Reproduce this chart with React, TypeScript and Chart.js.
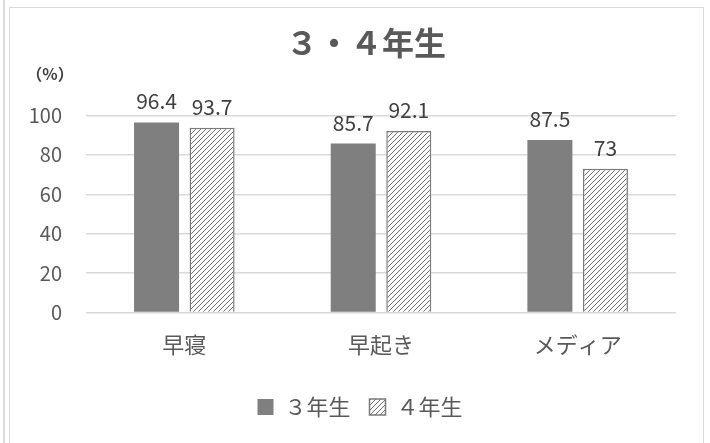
import React, { useEffect, useRef } from "react";
import { Chart, registerables } from "chart.js";

Chart.register(...registerables);

const categories = ["早寝", "早起き", "メディア"];
const seriesNames = ["３年生", "４年生"];
const grade3 = [96.4, 85.7, 87.5];
const grade4 = [93.7, 92.1, 73];
const valueLabels3 = ["96.4", "85.7", "87.5"];
const valueLabels4 = ["93.7", "92.1", "73"];
const titleText = "３・４年生";
const unitText = "（%）";

const FONT = "'Noto Sans CJK JP', 'Noto Sans', sans-serif";

function makeHatch(): CanvasPattern | string {
  const c = document.createElement("canvas");
  const s = 5;
  c.width = s;
  c.height = s;
  const g = c.getContext("2d");
  if (!g) return "#ffffff";
  g.fillStyle = "#ffffff";
  g.fillRect(0, 0, s, s);
  g.strokeStyle = "#6e6e6e";
  g.lineWidth = 1;
  g.beginPath();
  g.moveTo(0, s);
  g.lineTo(s, 0);
  g.moveTo(-1, 1);
  g.lineTo(1, -1);
  g.moveTo(s - 1, s + 1);
  g.lineTo(s + 1, s - 1);
  g.stroke();
  const p = g.createPattern(c, "repeat");
  return p || "#ffffff";
}

export default function App() {
  const ref = useRef<HTMLCanvasElement | null>(null);

  useEffect(() => {
    if (!ref.current) return;
    const hatch = makeHatch();
    const labelSets = [valueLabels3, valueLabels4];

    const valuePlugin = {
      id: "valueLabels",
      afterDatasetsDraw(chart: any) {
        const ctx = chart.ctx;
        ctx.save();
        ctx.font = `21px ${FONT}`;
        ctx.fillStyle = "#404040";
        ctx.textAlign = "center";
        ctx.textBaseline = "middle";
        chart.data.datasets.forEach((_: any, di: number) => {
          const meta = chart.getDatasetMeta(di);
          meta.data.forEach((el: any, i: number) => {
            ctx.fillText(labelSets[di][i], el.x, el.y - 21);
          });
        });
        ctx.restore();
      },
    };

    const unitPlugin = {
      id: "unitLabel",
      afterDraw(chart: any) {
        const ctx = chart.ctx;
        ctx.save();
        ctx.font = `bold 16px ${FONT}`;
        ctx.fillStyle = "#404040";
        ctx.textAlign = "center";
        ctx.textBaseline = "middle";
        ctx.fillText(unitText, 50, 74);
        ctx.restore();
      },
    };

    // shift the title and legend boxes so they centre like the reference
    const centrePlugin = {
      id: "centreBoxes",
      afterLayout(chart: any) {
        if (chart.titleBlock) {
          chart.titleBlock.left = 56;
          chart.titleBlock.width = chart.titleBlock.right - 56;
        }
        if (chart.legend) {
          chart.legend.left = 44;
          chart.legend.width = chart.legend.right - 44;
        }
      },
    };

    const chart = new Chart(ref.current, {
      type: "bar",
      data: {
        labels: categories,
        datasets: [
          {
            label: seriesNames[0],
            data: grade3,
            backgroundColor: "#7f7f7f",
            borderColor: "#7f7f7f",
            borderWidth: 0,
            categoryPercentage: 0.565,
            barPercentage: 0.81,
          },
          {
            label: seriesNames[1],
            data: grade4,
            backgroundColor: hatch as any,
            borderColor: "#7a7a7a",
            borderWidth: 1.5,
            categoryPercentage: 0.565,
            barPercentage: 0.81,
          },
        ],
      },
      options: {
        animation: false,
        responsive: false,
        maintainAspectRatio: false,
        devicePixelRatio: 1,
        layout: { padding: { top: 24, left: 0, right: 34, bottom: 15 } },
        plugins: {
          title: {
            display: true,
            text: titleText,
            color: "#595959",
            font: { family: FONT, size: 32, weight: "bold" },
            padding: { top: 0, bottom: 53 },
          },
          legend: {
            display: true,
            position: "bottom",
            labels: {
              color: "#595959",
              font: { family: FONT, size: 22 },
              boxWidth: 16,
              boxHeight: 16,
              padding: 19,
            },
          },
          tooltip: { enabled: false },
        },
        scales: {
          x: {
            grid: { display: false, drawTicks: false },
            border: { display: false },
            ticks: {
              color: "#595959",
              font: { family: FONT, size: 22 },
              padding: 19,
            },
          },
          y: {
            min: 0,
            max: 100,
            afterFit: (s: any) => {
              s.width = 86;
            },
            grid: { color: "#d9d9d9", lineWidth: 1.5, drawTicks: false },
            border: { display: false },
            ticks: {
              stepSize: 20,
              color: "#595959",
              font: { family: FONT, size: 20 },
              padding: 24,
            },
          },
        },
      },
      plugins: [valuePlugin, unitPlugin, centrePlugin],
    } as any);

    return () => chart.destroy();
  }, []);

  return (
    <div style={{ position: "absolute", left: 0, top: 0, width: 710, height: 443, overflow: "hidden", background: "#fff" }}>
      <canvas ref={ref} width={710} height={443} style={{ position: "absolute", left: 0, top: 0, width: 710, height: 443 }} />
      <div style={{ position: "absolute", left: 3, top: 0, width: 1.5, height: 443, background: "#dcdcdc" }} />
      <div
        style={{
          position: "absolute",
          left: 9,
          top: 7,
          width: 695,
          height: 460,
          border: "1.5px solid #d9d9d9",
          boxSizing: "border-box",
          pointerEvents: "none",
        }}
      />
    </div>
  );
}
